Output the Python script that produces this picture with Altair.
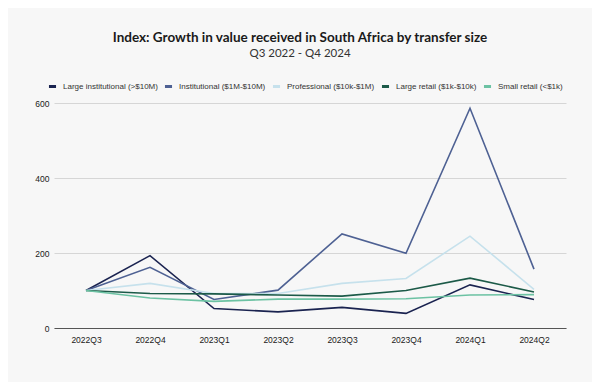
import altair as alt
import pandas as pd

quarters = ["2022Q3", "2022Q4", "2023Q1", "2023Q2", "2023Q3", "2023Q4", "2024Q1", "2024Q2"]
series_names = [
    "Large institutional (>$10M)",
    "Institutional ($1M-$10M)",
    "Professional ($10k-$1M)",
    "Large retail ($1k-$10k)",
    "Small retail (<$1k)",
]
large_institutional = [100, 193, 52, 43, 55, 39, 115, 76]
institutional = [100, 162, 76, 101, 251, 199, 586, 157]
professional = [100, 119, 92, 92, 119, 132, 245, 103]
large_retail = [100, 92, 91, 88, 85, 100, 133, 96]
small_retail = [100, 80, 71, 77, 77, 78, 88, 89]
colors = ["#1a2350", "#4e6193", "#c6e1ec", "#1c5a48", "#6cc2a3"]

values = [large_institutional, institutional, professional, large_retail, small_retail]
rows = []
for name, vals in zip(series_names, values):
    for q, v in zip(quarters, vals):
        rows.append({"quarter": q, "value": v, "series": name})
df = pd.DataFrame(rows)

sans = "Liberation Sans"

chart = alt.Chart(df).mark_line(strokeWidth=1.6).encode(
    x=alt.X("quarter:N", sort=quarters, title=None,
            scale=alt.Scale(type="point", padding=0.5),
            axis=alt.Axis(labelAngle=0, ticks=False, domain=True, domainColor="#555555",
                          domainWidth=1.2, labelFontSize=8.5, labelColor="#1a1a1a",
                          labelFont=sans, labelPadding=7, grid=False)),
    y=alt.Y("value:Q", title=None,
            scale=alt.Scale(domain=[0, 600]),
            axis=alt.Axis(values=[0, 200, 400, 600], ticks=False, domain=False,
                          gridColor="#d6d6d6", labelFontSize=8.5, labelColor="#1a1a1a",
                          labelFont=sans, labelPadding=5)),
    color=alt.Color("series:N", sort=series_names,
                    scale=alt.Scale(domain=series_names, range=colors),
                    legend=alt.Legend(title=None, orient="none", direction="horizontal",
                                      legendX=-7, legendY=-22, symbolType="stroke",
                                      symbolStrokeWidth=3, symbolSize=50,
                                      labelFontSize=8, labelFont=sans,
                                      labelColor="#333333", columnPadding=0,
                                      gridAlign="none", columns=5,
                                      labelOffset=5, symbolOffset=0)),
    order=alt.Order("series:N"),
).properties(
    width=512,
    height=225,
    padding={"left": 46, "top": 95, "right": 26, "bottom": 54},
    autosize=alt.AutoSizeParams(type="none"),
    background="#f7f7f7",
    title=alt.TitleParams(
        text="Index: Growth in value received in South Africa by transfer size",
        subtitle="Q3 2022 - Q4 2024",
        anchor="middle", dx=-10, offset=22,
        font="Lato", fontSize=13.5, fontWeight="bold", color="#1a1a1a",
        subtitleFont="Lato", subtitleFontSize=11.5, subtitleColor="#333333",
        subtitlePadding=3,
    ),
).configure_view(stroke=None)

chart.save("out.html", embed_options={"renderer": "svg", "actions": False})
